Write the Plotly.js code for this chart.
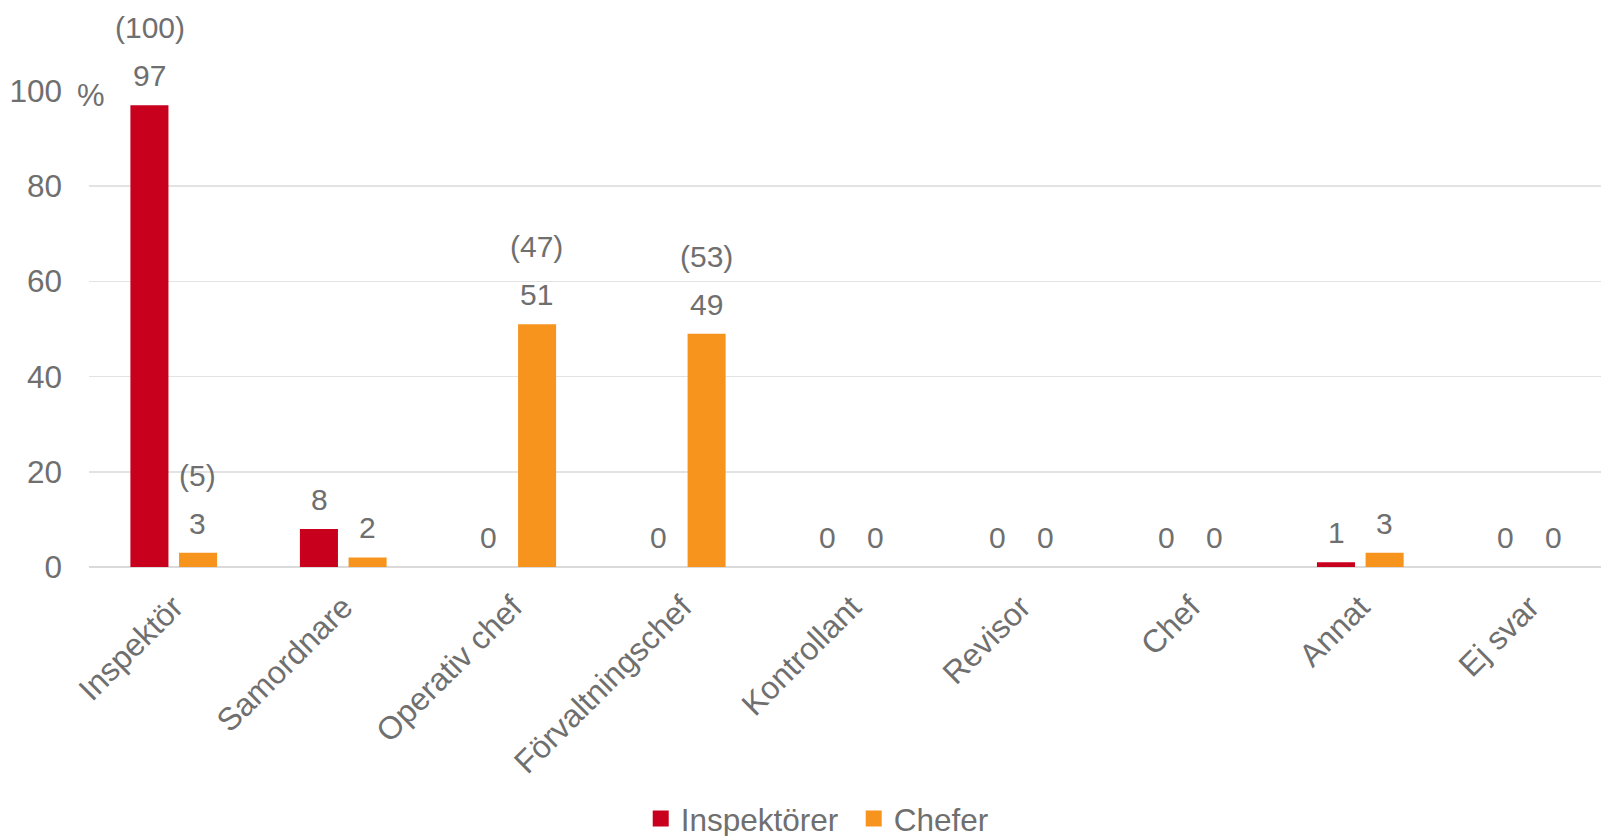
<!DOCTYPE html>
<html>
<head>
<meta charset="utf-8">
<script src="https://cdn.plot.ly/plotly-3.0.1.min.js"></script>
<style>html,body{margin:0;padding:0;background:#fff;}#chart{width:1601px;height:836px;}</style>
</head>
<body>
<div id="chart"></div>
<script>
const categories = ['Inspektör','Samordnare','Operativ chef','Förvaltningschef','Kontrollant','Revisor','Chef','Annat','Ej svar'];
const inspektorer = [97, 8, 0, 0, 0, 0, 0, 1, 0];
const chefer = [3, 2, 51, 49, 0, 0, 0, 3, 0];
const nInspektorer = ['(100)', '', '', '', '', '', '', '', ''];
const nChefer = ['(5)', '', '(47)', '(53)', '', '', '', '', ''];
const seriesNames = ['Inspektörer', 'Chefer'];
const yTicks = [0, 20, 40, 60, 80, 100];

const RED = '#C8001E';
const ORANGE = '#F7941D';
const GRAY = '#6F6F6F';
const FONT = 'Liberation Sans, Arial, sans-serif';

const traces = [
  {type: 'bar', name: seriesNames[0], x: categories, y: inspektorer, marker: {color: RED}, hoverinfo: 'x+y'},
  {type: 'bar', name: seriesNames[1], x: categories, y: chefer, marker: {color: ORANGE}, hoverinfo: 'x+y'}
];

const annotations = [];
const OFF = 24;
[[inspektorer, nInspektorer, -OFF], [chefer, nChefer, OFF]].forEach(([vals, ns, xs]) => {
  vals.forEach((v, i) => {
    annotations.push({x: categories[i], y: v, xref: 'x', yref: 'y', text: String(v), showarrow: false,
      xshift: xs, yshift: 11, yanchor: 'bottom', xanchor: 'center', font: {size: 30, color: GRAY, family: FONT}});
    if (ns[i]) {
      annotations.push({x: categories[i], y: v, xref: 'x', yref: 'y', text: ns[i], showarrow: false,
        xshift: xs, yshift: 59, yanchor: 'bottom', xanchor: 'center', font: {size: 30, color: GRAY, family: FONT}});
    }
  });
});
annotations.push({x: -14/1512, y: 100, xref: 'paper', yref: 'y', text: '%', showarrow: false,
  xanchor: 'left', yanchor: 'middle', yshift: -4, font: {size: 31, color: GRAY, family: FONT}});

const layout = {
  width: 1601, height: 836,
  margin: {l: 89, r: 0, t: 91, b: 268.5, pad: 0},
  paper_bgcolor: '#fff', plot_bgcolor: '#fff',
  font: {family: FONT, color: GRAY, size: 30},
  barmode: 'group', bargap: 0.426, bargroupgap: 0.218,
  showlegend: true,
  legend: {orientation: 'h', xref: 'container', yref: 'container', x: 0.4002, y: 0.021,
    xanchor: 'left', yanchor: 'middle', entrywidth: 168, entrywidthmode: 'pixels',
    font: {size: 31.5, color: GRAY, family: FONT}, traceorder: 'normal'},
  xaxis: {type: 'category', range: [-0.5, 8.42], tickangle: -45, showgrid: false, zeroline: false,
    showline: false, ticks: '', automargin: false, ticklabelstandoff: 14,
    tickfont: {size: 32, color: GRAY, family: FONT}, fixedrange: true},
  yaxis: {range: [0, 100], tickvals: yTicks, ticktext: yTicks.map(String), showgrid: true, gridcolor: '#E3E3E3',
    gridwidth: 1.5, zeroline: true, zerolinecolor: '#DADADA', zerolinewidth: 2, showline: false, ticks: '',
    automargin: false, ticklabelstandoff: 26, tickfont: {size: 31.5, color: GRAY, family: FONT}, fixedrange: true},
  annotations: annotations
};

Plotly.newPlot('chart', traces, layout, {displayModeBar: false, staticPlot: true}).then(() => {
  document.querySelectorAll('.legend .legendpoints path').forEach(p => p.setAttribute('d', 'M8,8H-8V-8H8Z'));
});
</script>
</body>
</html>
